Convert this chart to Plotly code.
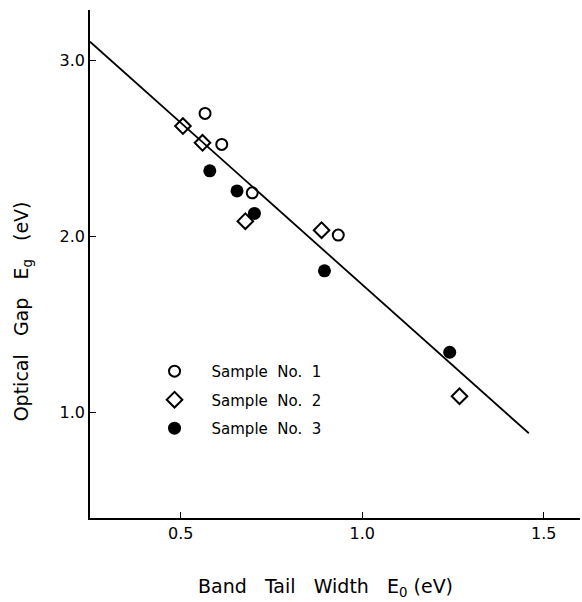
import plotly.graph_objects as go

# Data
s1_x = [0.567, 0.613, 0.697, 0.934]
s1_y = [2.697, 2.521, 2.246, 2.006]
s2_x = [0.506, 0.560, 0.678, 0.888, 1.268]
s2_y = [2.625, 2.530, 2.085, 2.034, 1.091]
s3_x = [0.580, 0.655, 0.703, 0.896, 1.241]
s3_y = [2.371, 2.257, 2.129, 1.803, 1.341]
fit_x = [0.25, 1.459]
fit_y = [3.104, 0.881]
names = ["Sample\u00a0\u00a0No.\u00a0\u00a01", "Sample\u00a0\u00a0No.\u00a0\u00a02",
         "Sample\u00a0\u00a0No.\u00a0\u00a03"]
x_ticks = [0.5, 1.0, 1.5]
y_ticks = [1.0, 2.0, 3.0]

FONT = "DejaVu Sans"
SP = "&nbsp;&nbsp;&nbsp;"

fig = go.Figure()
fig.add_trace(go.Scatter(x=fit_x, y=fit_y, mode="lines",
                         line=dict(color="black", width=1.8), showlegend=False,
                         hoverinfo="skip"))
fig.add_trace(go.Scatter(x=s1_x, y=s1_y, mode="markers", name=names[0], legendgroup="a",
                         marker=dict(symbol="circle-open", size=11, color="black",
                                     line=dict(width=2, color="black"))))
fig.add_trace(go.Scatter(x=s2_x, y=s2_y, mode="markers", name=names[1], legendgroup="b",
                         marker=dict(symbol="diamond-open", size=12, color="black",
                                     line=dict(width=2, color="black"))))
fig.add_trace(go.Scatter(x=s3_x, y=s3_y, mode="markers", name=names[2], legendgroup="c",
                         marker=dict(symbol="circle", size=13, color="black")))

axis_common = dict(showgrid=False, zeroline=False, showline=True, linecolor="black",
                   linewidth=1.5, ticks="inside", ticklen=6, tickwidth=1.3,
                   tickcolor="black", tickfont=dict(family=FONT, size=16, color="black"))

fig.update_layout(
    width=582, height=602,
    margin=dict(l=90, r=2, t=10, b=84),
    paper_bgcolor="white", plot_bgcolor="white",
    font=dict(family=FONT, color="black"),
    xaxis=dict(range=[0.25, 1.6], tickvals=x_ticks, ticktext=["0.5", "1.0", "1.5"],
               **axis_common),
    yaxis=dict(range=[0.4, 3.284], tickvals=y_ticks, ticktext=["1.0", "2.0", "3.0"],
               **axis_common),
    legend=dict(x=0.097, y=0.321, xanchor="left", yanchor="top",
                bgcolor="rgba(0,0,0,0)", itemwidth=64, tracegroupgap=6,
                traceorder="grouped", itemsizing="trace",
                font=dict(family=FONT, size=15, color="black")),
    annotations=[
        dict(text="Band" + SP + "Tail" + SP + "Width" + SP + "E<sub>0</sub>&nbsp;(eV)",
             xref="paper", yref="paper", x=0.48, y=-0.136, showarrow=False,
             xanchor="center", yanchor="middle",
             font=dict(family=FONT, size=19, color="black")),
        dict(text="Optical" + SP + "Gap" + SP + "E<sub>g</sub>" + SP + "(eV)",
             xref="paper", yref="paper", x=-0.136, y=0.4075, showarrow=False,
             textangle=-90, xanchor="center", yanchor="middle",
             font=dict(family=FONT, size=19, color="black")),
    ],
)

fig.write_html("out.html")
